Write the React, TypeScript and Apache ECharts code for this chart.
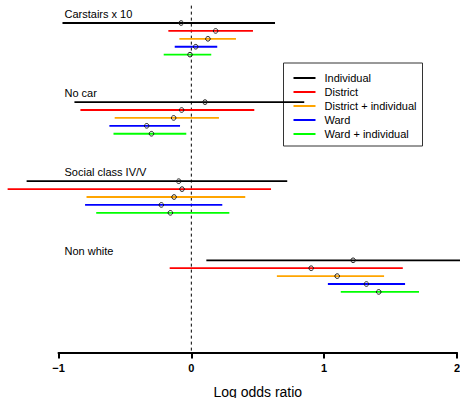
import React, { useEffect, useRef } from "react";
import * as echarts from "echarts";

const variables = ["Carstairs x 10", "No car", "Social class IV/V", "Non white"];
const models = ["Individual", "District", "District + individual", "Ward", "Ward + individual"];
const colors = ["#000000", "#FF0000", "#FFA500", "#0000FF", "#00FF00"];

// estimates and interval bounds, per model, in the order of variables
const individualEst = [-0.077, 0.103, -0.095, 1.218];
const individualLo = [-0.97, -0.88, -1.24, 0.113];
const individualHi = [0.63, 0.85, 0.722, 2.1];

const districtEst = [0.183, -0.073, -0.07, 0.902];
const districtLo = [-0.173, -0.835, -1.383, -0.163];
const districtHi = [0.464, 0.474, 0.6, 1.592];

const districtIndEst = [0.125, -0.133, -0.13, 1.098];
const districtIndLo = [-0.09, -0.577, -0.789, 0.644];
const districtIndHi = [0.336, 0.208, 0.406, 1.451];

const wardEst = [0.033, -0.336, -0.226, 1.318];
const wardLo = [-0.125, -0.617, -0.8, 1.028];
const wardHi = [0.195, -0.085, 0.233, 1.609];

const wardIndEst = [-0.01, -0.3, -0.158, 1.411];
const wardIndLo = [-0.208, -0.586, -0.716, 1.125];
const wardIndHi = [0.15, -0.038, 0.286, 1.714];

const xTicks = [-1, 0, 1, 2];

const estimates = [individualEst, districtEst, districtIndEst, wardEst, wardIndEst];
const lowers = [individualLo, districtLo, districtIndLo, wardLo, wardIndLo];
const uppers = [individualHi, districtHi, districtIndHi, wardHi, wardIndHi];

const FONT = "'Liberation Sans', Arial, Helvetica, sans-serif";
const GROUP_STEP = 10;
const LABEL_OFFSET = -1.15;
const LABEL_X = -0.955;

export default function App() {
  const ref = useRef<HTMLDivElement>(null);

  useEffect(() => {
    if (!ref.current) return;
    const chart = echarts.init(ref.current, null, { renderer: "svg" });

    const modelSeries = models.map((name, mi) => ({
      name,
      type: "custom",
      z: 2,
      clip: false,
      silent: true,
      itemStyle: { color: colors[mi] },
      data: variables.map((_, vi) => [
        lowers[mi][vi],
        uppers[mi][vi],
        estimates[mi][vi],
        vi * GROUP_STEP + mi,
      ]),
      renderItem: (params: any, api: any) => {
        const lo = api.value(0);
        const hi = api.value(1);
        const est = api.value(2);
        const row = api.value(3);
        const p1 = api.coord([lo, row]);
        const p2 = api.coord([hi, row]);
        const pc = api.coord([est, row]);
        return {
          type: "group",
          children: [
            {
              type: "line",
              shape: { x1: p1[0], y1: p1[1], x2: p2[0], y2: p2[1] },
              style: { stroke: colors[mi], lineWidth: 1.8 },
            },
            {
              type: "circle",
              shape: { cx: pc[0], cy: pc[1], r: 2.3 },
              style: { stroke: "#1a1a1a", fill: "none", lineWidth: 1 },
            },
          ],
        };
      },
    }));

    const option: any = {
      animation: false,
      backgroundColor: "#ffffff",
      grid: { left: 58.5, right: 3, top: 3, bottom: 45.5, containLabel: false, outerBoundsMode: "none" },
      xAxis: {
        type: "value",
        min: -1,
        max: 2,
        interval: 1,
        splitLine: { show: false },
        axisLine: { show: true, onZero: false, lineStyle: { color: "#000", width: 2 } },
        axisTick: { show: true, length: 6, lineStyle: { color: "#000", width: 2 } },
        axisLabel: {
          margin: 10,
          fontSize: 11,
          fontWeight: "bold",
          fontFamily: FONT,
          color: "#000",
          formatter: (v: number) => (xTicks.includes(v) ? String(v).replace("-", "\u2212") : ""),
        },
        name: "Log odds ratio",
        nameLocation: "middle",
        nameGap: 32,
        nameTextStyle: { fontSize: 14, fontFamily: FONT, color: "#000" },
      },
      yAxis: {
        type: "value",
        inverse: true,
        min: -2.53,
        max: 41.66,
        show: false,
      },
      legend: {
        orient: "vertical",
        left: 283.5,
        top: 63,
        z: 1,
        padding: [8, 6, 5, 10],
        itemWidth: 22,
        itemHeight: 2,
        itemGap: 0,
        selectedMode: false,
        backgroundColor: "#ffffff",
        borderColor: "#333333",
        borderWidth: 1,
        borderRadius: 0,
        textStyle: { fontSize: 11, lineHeight: 14, fontFamily: FONT, color: "#000", padding: [0, 0, 0, 4] },
        data: models.map((m, i) => ({ name: m, icon: "rect", itemStyle: { color: colors[i] } })),
      },
      series: [
        {
          name: "zero",
          type: "line",
          silent: true,
          symbol: "none",
          z: 1,
          lineStyle: { color: "#000", width: 1, type: [3, 3] },
          data: [
            [0, -2.2],
            [0, 41.66],
          ],
        },
        ...modelSeries,
        {
          name: "labels",
          type: "custom",
          clip: false,
          silent: true,
          data: variables.map((v, vi) => [LABEL_X, vi * GROUP_STEP + LABEL_OFFSET, v]),
          renderItem: (params: any, api: any) => {
            const p = api.coord([api.value(0), api.value(1)]);
            return {
              type: "text",
              x: p[0],
              y: p[1],
              style: {
                text: variables[params.dataIndex],
                fontSize: 11,
                fontFamily: FONT,
                fill: "#000",
                align: "left",
                verticalAlign: "middle",
              },
            };
          },
        },
      ],
    };

    chart.setOption(option);
    return () => chart.dispose();
  }, []);

  return (
    <div
      ref={ref}
      style={{ position: "fixed", left: 0, top: 0, width: 460, height: 398 }}
    />
  );
}
